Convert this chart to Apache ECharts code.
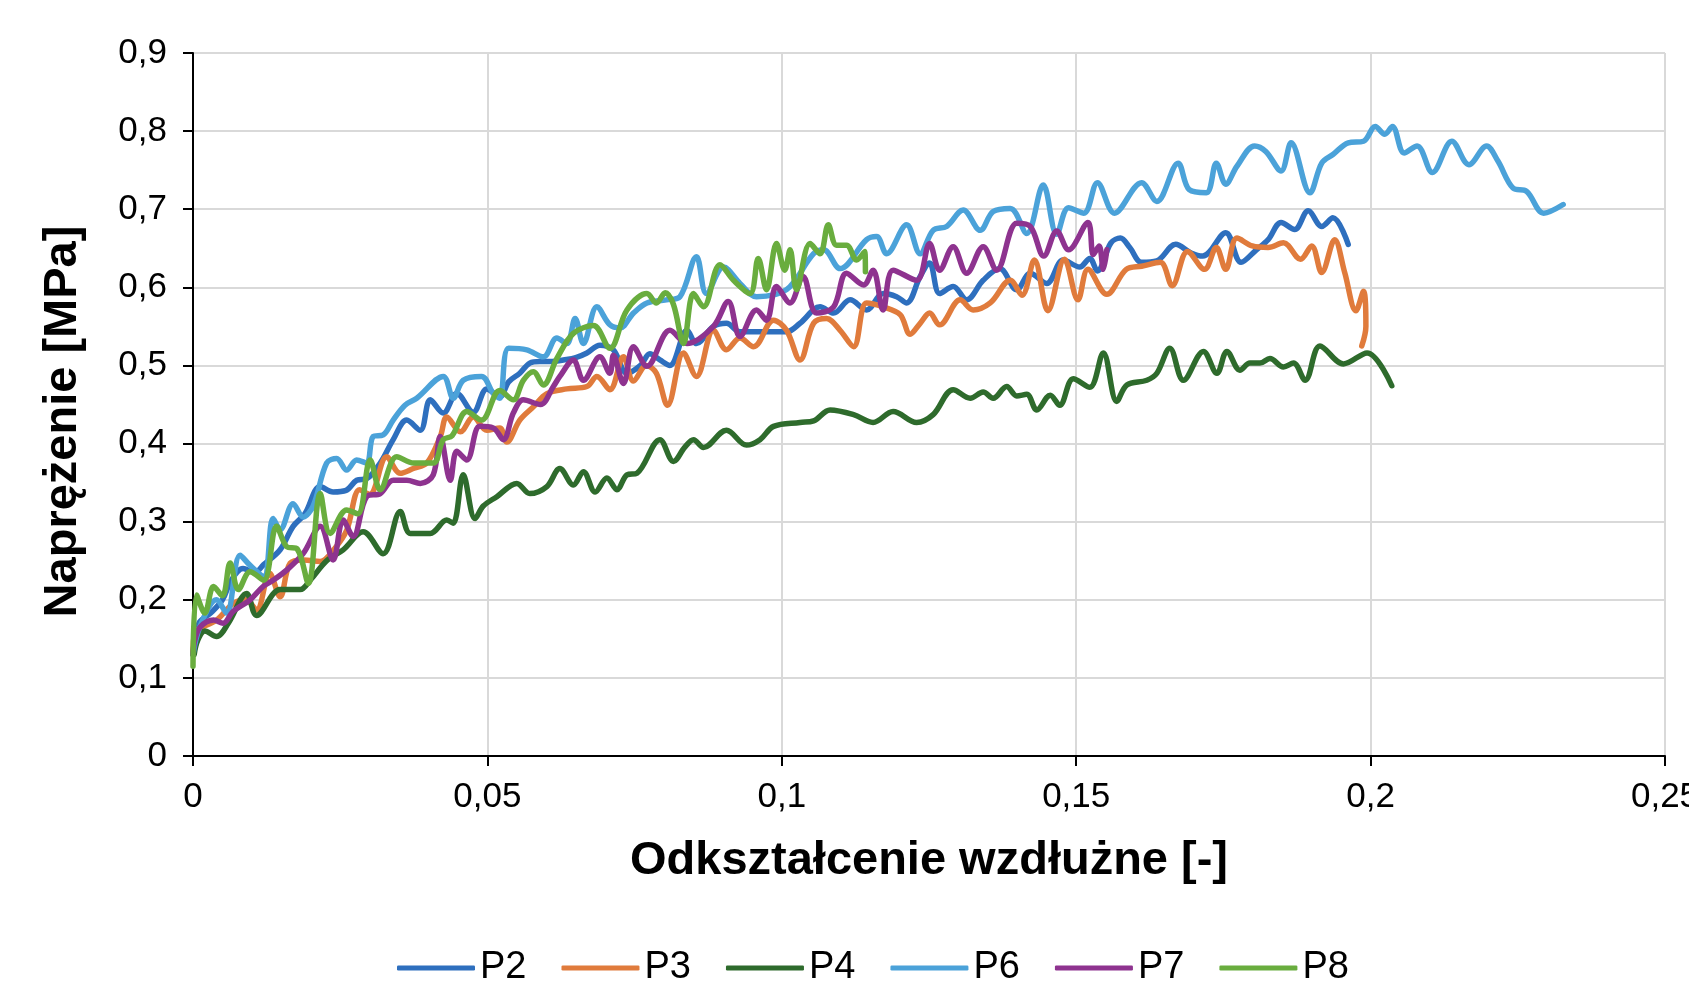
<!DOCTYPE html>
<html>
<head>
<meta charset="utf-8">
<script src="https://cdn.jsdelivr.net/npm/echarts@6/dist/echarts.min.js"></script>
<style>
html,body{margin:0;padding:0;background:#fff;overflow:hidden;}
#chart{width:1689px;height:984px;}
</style>
</head>
<body>
<div id="chart"></div>
<script>
// Series names and colours
const seriesNames = ['P2', 'P3', 'P4', 'P6', 'P7', 'P8'];
const seriesColors = ['#2E6FBE', '#E07B3C', '#2E6B2C', '#4BA2D9', '#8E338F', '#69AD3E'];

// Axis titles
const xTitle = 'Odkształcenie wzdłużne [-]';
const yTitle = 'Naprężenie [MPa]';

// Data: [strain, stress]
const p2 = [[0,0.13],[0.001,0.17],[0.003,0.183],[0.005,0.2],[0.0065,0.225],[0.0085,0.24],[0.0105,0.235],[0.012,0.245],[0.0148,0.264],[0.017,0.294],[0.019,0.31],[0.0216,0.345],[0.0238,0.338],[0.026,0.34],[0.0278,0.353],[0.0295,0.355],[0.0318,0.375],[0.034,0.405],[0.0363,0.43],[0.0386,0.417],[0.0403,0.456],[0.0425,0.439],[0.0448,0.464],[0.0476,0.44],[0.0499,0.47],[0.0521,0.46],[0.0536,0.479],[0.0555,0.49],[0.0572,0.503],[0.0589,0.505],[0.061,0.505],[0.0629,0.507],[0.065,0.51],[0.0669,0.516],[0.0691,0.526],[0.0714,0.52],[0.0737,0.49],[0.076,0.5],[0.0776,0.515],[0.0793,0.507],[0.081,0.5],[0.0839,0.545],[0.0855,0.528],[0.0884,0.55],[0.0906,0.554],[0.0929,0.543],[0.0957,0.543],[0.098,0.543],[0.1008,0.543],[0.1031,0.554],[0.1065,0.575],[0.1088,0.567],[0.1116,0.584],[0.1144,0.571],[0.1172,0.592],[0.1195,0.588],[0.1212,0.58],[0.1235,0.614],[0.1251,0.631],[0.1268,0.592],[0.1291,0.601],[0.1314,0.584],[0.1342,0.609],[0.137,0.624],[0.1399,0.597],[0.1422,0.618],[0.145,0.605],[0.1478,0.635],[0.1506,0.626],[0.1523,0.637],[0.1536,0.621],[0.1559,0.657],[0.1575,0.663],[0.1591,0.651],[0.1611,0.632],[0.1637,0.634],[0.1669,0.655],[0.1695,0.644],[0.1715,0.64],[0.1754,0.67],[0.178,0.632],[0.1806,0.648],[0.1826,0.661],[0.1848,0.683],[0.1871,0.674],[0.1894,0.698],[0.1917,0.678],[0.1936,0.689],[0.1962,0.655]];

const p3 = [[0,0.13],[0.0003,0.157],[0.004,0.174],[0.0068,0.195],[0.009,0.2],[0.0108,0.187],[0.013,0.234],[0.0148,0.204],[0.0165,0.247],[0.0188,0.251],[0.0216,0.249],[0.024,0.265],[0.0261,0.289],[0.0283,0.341],[0.03,0.335],[0.0329,0.383],[0.0352,0.362],[0.0374,0.368],[0.0397,0.375],[0.042,0.409],[0.0431,0.434],[0.0454,0.415],[0.0476,0.434],[0.0499,0.417],[0.0521,0.42],[0.0533,0.402],[0.0555,0.43],[0.0578,0.447],[0.0601,0.464],[0.0635,0.47],[0.0669,0.473],[0.0686,0.486],[0.0708,0.469],[0.0731,0.511],[0.0748,0.48],[0.077,0.5],[0.0787,0.49],[0.0806,0.449],[0.0833,0.516],[0.0855,0.486],[0.0884,0.545],[0.0906,0.52],[0.0929,0.535],[0.0952,0.524],[0.0986,0.558],[0.1008,0.545],[0.1031,0.507],[0.1054,0.554],[0.1076,0.56],[0.1099,0.545],[0.1122,0.524],[0.1144,0.58],[0.1172,0.575],[0.1201,0.565],[0.1218,0.54],[0.1235,0.554],[0.1251,0.567],[0.1268,0.552],[0.1303,0.584],[0.1325,0.571],[0.1354,0.58],[0.1388,0.609],[0.1408,0.59],[0.1429,0.635],[0.1452,0.57],[0.148,0.636],[0.1503,0.584],[0.152,0.623],[0.1552,0.591],[0.1585,0.623],[0.1611,0.627],[0.1643,0.632],[0.1663,0.602],[0.1689,0.646],[0.1718,0.623],[0.1738,0.651],[0.1754,0.623],[0.1773,0.663],[0.1799,0.653],[0.1826,0.651],[0.1852,0.657],[0.1881,0.636],[0.19,0.653],[0.1917,0.619],[0.1939,0.661],[0.1956,0.619],[0.1975,0.57],[0.1988,0.595],[0.1992,0.55],[0.1985,0.525]];

const p4 = [[0.0002,0.13],[0.0008,0.148],[0.002,0.16],[0.004,0.153],[0.006,0.17],[0.0091,0.208],[0.0108,0.18],[0.0148,0.213],[0.0182,0.213],[0.0199,0.225],[0.0227,0.25],[0.0255,0.264],[0.0289,0.287],[0.0323,0.259],[0.0352,0.313],[0.0369,0.285],[0.0403,0.285],[0.0431,0.302],[0.0442,0.298],[0.0459,0.36],[0.0479,0.304],[0.0493,0.32],[0.0516,0.332],[0.055,0.349],[0.0572,0.336],[0.0601,0.345],[0.0623,0.368],[0.0646,0.347],[0.0663,0.364],[0.0683,0.338],[0.0703,0.356],[0.072,0.341],[0.0737,0.36],[0.0754,0.362],[0.0793,0.405],[0.0816,0.377],[0.0835,0.395],[0.085,0.405],[0.0867,0.395],[0.0906,0.417],[0.094,0.398],[0.0963,0.405],[0.0986,0.422],[0.1031,0.427],[0.1054,0.429],[0.1082,0.443],[0.1122,0.437],[0.1155,0.427],[0.1189,0.441],[0.1229,0.427],[0.1257,0.437],[0.1291,0.469],[0.132,0.458],[0.1342,0.466],[0.1359,0.458],[0.1382,0.473],[0.1399,0.461],[0.1416,0.463],[0.1433,0.443],[0.1456,0.462],[0.1472,0.449],[0.1495,0.483],[0.1523,0.472],[0.1546,0.516],[0.1569,0.454],[0.1586,0.475],[0.162,0.481],[0.1637,0.49],[0.1659,0.522],[0.1682,0.481],[0.1716,0.518],[0.1739,0.49],[0.1756,0.518],[0.1778,0.494],[0.1795,0.503],[0.1812,0.503],[0.1829,0.509],[0.1852,0.498],[0.1869,0.503],[0.1889,0.481],[0.1914,0.525],[0.1954,0.502],[0.1994,0.516],[0.2036,0.474]];

const p6 = [[0,0.13],[0.0012,0.166],[0.004,0.2],[0.0057,0.183],[0.008,0.257],[0.0097,0.244],[0.012,0.23],[0.0136,0.304],[0.0148,0.29],[0.017,0.323],[0.0187,0.306],[0.0204,0.32],[0.0227,0.375],[0.0244,0.381],[0.0261,0.366],[0.0278,0.379],[0.0295,0.375],[0.0306,0.409],[0.0323,0.411],[0.034,0.43],[0.036,0.449],[0.038,0.458],[0.0425,0.486],[0.0442,0.458],[0.0459,0.481],[0.049,0.486],[0.051,0.464],[0.0521,0.458],[0.0536,0.522],[0.0567,0.52],[0.0595,0.511],[0.0618,0.535],[0.0635,0.528],[0.0649,0.56],[0.0663,0.528],[0.0686,0.575],[0.0708,0.552],[0.0725,0.548],[0.0748,0.567],[0.0771,0.58],[0.0804,0.584],[0.0827,0.588],[0.0855,0.639],[0.0872,0.592],[0.0901,0.626],[0.0929,0.605],[0.0957,0.588],[0.1008,0.597],[0.1054,0.643],[0.1071,0.648],[0.1099,0.624],[0.1144,0.661],[0.1161,0.665],[0.1178,0.643],[0.1212,0.68],[0.1235,0.643],[0.1257,0.673],[0.128,0.678],[0.1308,0.699],[0.1337,0.673],[0.1359,0.697],[0.1388,0.701],[0.1416,0.669],[0.1444,0.731],[0.1467,0.668],[0.1487,0.702],[0.1513,0.695],[0.1536,0.734],[0.1565,0.695],[0.1611,0.734],[0.1637,0.71],[0.1673,0.759],[0.1692,0.725],[0.1721,0.721],[0.1738,0.759],[0.1754,0.732],[0.1773,0.755],[0.1803,0.781],[0.1822,0.774],[0.1848,0.749],[0.1865,0.785],[0.1897,0.721],[0.1917,0.759],[0.1936,0.77],[0.1962,0.785],[0.1988,0.787],[0.2008,0.806],[0.2024,0.796],[0.2037,0.806],[0.2057,0.772],[0.2079,0.781],[0.2105,0.747],[0.2138,0.787],[0.2167,0.757],[0.2197,0.781],[0.2216,0.762],[0.2242,0.727],[0.2265,0.723],[0.2294,0.695],[0.2327,0.706]];

const p7 = [[0,0.13],[0.0003,0.148],[0.0012,0.165],[0.0035,0.174],[0.0051,0.17],[0.0068,0.185],[0.0097,0.2],[0.0119,0.217],[0.0136,0.225],[0.0159,0.238],[0.0187,0.259],[0.0216,0.294],[0.0238,0.251],[0.0255,0.302],[0.0272,0.281],[0.0295,0.332],[0.0318,0.336],[0.034,0.353],[0.0363,0.353],[0.0386,0.349],[0.0408,0.36],[0.042,0.409],[0.0437,0.353],[0.0448,0.39],[0.0465,0.379],[0.0487,0.422],[0.051,0.42],[0.0527,0.405],[0.0544,0.439],[0.0561,0.456],[0.059,0.45],[0.0612,0.473],[0.0623,0.486],[0.0646,0.507],[0.0663,0.481],[0.0691,0.511],[0.0708,0.49],[0.0714,0.513],[0.0731,0.477],[0.0748,0.524],[0.0771,0.499],[0.081,0.545],[0.0839,0.528],[0.0884,0.55],[0.0909,0.582],[0.0929,0.537],[0.0957,0.571],[0.0974,0.558],[0.0991,0.601],[0.1014,0.58],[0.1036,0.614],[0.1059,0.567],[0.1088,0.575],[0.111,0.618],[0.1139,0.603],[0.1155,0.622],[0.1172,0.571],[0.1189,0.622],[0.1229,0.609],[0.1251,0.656],[0.1268,0.622],[0.1291,0.652],[0.1314,0.618],[0.1342,0.652],[0.1365,0.622],[0.1399,0.682],[0.1422,0.678],[0.1445,0.64],[0.1467,0.672],[0.1487,0.648],[0.152,0.683],[0.1529,0.642],[0.1539,0.653],[0.1546,0.623],[0.1552,0.648]];

const p8 = [[0,0.115],[0.0006,0.206],[0.002,0.183],[0.0035,0.217],[0.005,0.205],[0.0063,0.247],[0.0077,0.213],[0.0097,0.236],[0.012,0.225],[0.0142,0.294],[0.0159,0.268],[0.0177,0.265],[0.0196,0.221],[0.0216,0.336],[0.0233,0.285],[0.0261,0.315],[0.028,0.31],[0.0301,0.379],[0.0318,0.341],[0.0346,0.383],[0.0375,0.375],[0.0408,0.375],[0.0425,0.405],[0.044,0.41],[0.0465,0.441],[0.049,0.43],[0.0521,0.468],[0.0544,0.456],[0.0561,0.481],[0.0578,0.492],[0.0595,0.475],[0.0618,0.509],[0.0646,0.541],[0.068,0.551],[0.0708,0.522],[0.0737,0.571],[0.0771,0.592],[0.0787,0.58],[0.0802,0.593],[0.0816,0.578],[0.0833,0.528],[0.085,0.592],[0.0867,0.575],[0.0895,0.629],[0.0918,0.609],[0.0946,0.592],[0.096,0.637],[0.0974,0.597],[0.0991,0.656],[0.1005,0.622],[0.1014,0.648],[0.1025,0.597],[0.1048,0.656],[0.1065,0.643],[0.1079,0.68],[0.1093,0.654],[0.111,0.654],[0.1127,0.635],[0.1141,0.646],[0.1142,0.62]];

const seriesData = [p2, p3, p4, p6, p7, p8];

const fmt = v => String(parseFloat(Number(v).toFixed(4))).replace('.', ',');

const chart = echarts.init(document.getElementById('chart'), null, {renderer: 'canvas'});
const FONT = '"Liberation Sans", Arial, Helvetica, sans-serif';

chart.setOption({
  backgroundColor: '#ffffff',
  animation: false,
  textStyle: {fontFamily: FONT, color: '#000'},
  grid: {left: 193, right: 24, top: 53, bottom: 228, containLabel: false, outerBoundsMode: 'none'},
  legend: {
    data: seriesNames,
    left: 392,
    top: 942,
    icon: 'roundRect',
    itemWidth: 78,
    itemHeight: 5,
    itemGap: 35,
    textStyle: {fontFamily: FONT, fontSize: 38, color: '#000', lineHeight: 42}
  },
  xAxis: {
    type: 'value',
    min: 0, max: 0.25, interval: 0.05,
    name: xTitle,
    nameLocation: 'middle',
    nameGap: 82,
    nameTextStyle: {fontFamily: FONT, fontSize: 47, fontWeight: 'bold', color: '#000'},
    axisLine: {show: true, onZero: false, lineStyle: {color: '#000', width: 2}},
    axisTick: {show: true, inside: false, length: 10, lineStyle: {color: '#000', width: 2}},
    axisLabel: {fontFamily: FONT, fontSize: 35, color: '#000', margin: 24, formatter: fmt, hideOverlap: false},
    splitLine: {show: true, lineStyle: {color: '#d9d9d9', width: 2}}
  },
  yAxis: {
    type: 'value',
    min: 0, max: 0.9, interval: 0.1,
    name: yTitle,
    nameLocation: 'middle',
    nameGap: 106,
    nameTextStyle: {fontFamily: FONT, fontSize: 47, fontWeight: 'bold', color: '#000', padding: [0, 34, 0, 0]},
    axisLine: {show: true, onZero: false, lineStyle: {color: '#000', width: 2}},
    axisTick: {show: true, inside: false, length: 10, lineStyle: {color: '#000', width: 2}},
    axisLabel: {fontFamily: FONT, fontSize: 35, color: '#000', margin: 26, formatter: fmt},
    splitLine: {show: true, lineStyle: {color: '#d9d9d9', width: 2}}
  },
  series: seriesNames.map((n, i) => ({
    name: n,
    type: 'line',
    data: seriesData[i],
    showSymbol: false,
    symbol: 'none',
    smooth: 0.35,
    color: seriesColors[i],
    lineStyle: {width: 5.5, color: seriesColors[i], cap: 'round', join: 'round'},
    z: 2 + i
  }))
});
</script>
</body>
</html>
